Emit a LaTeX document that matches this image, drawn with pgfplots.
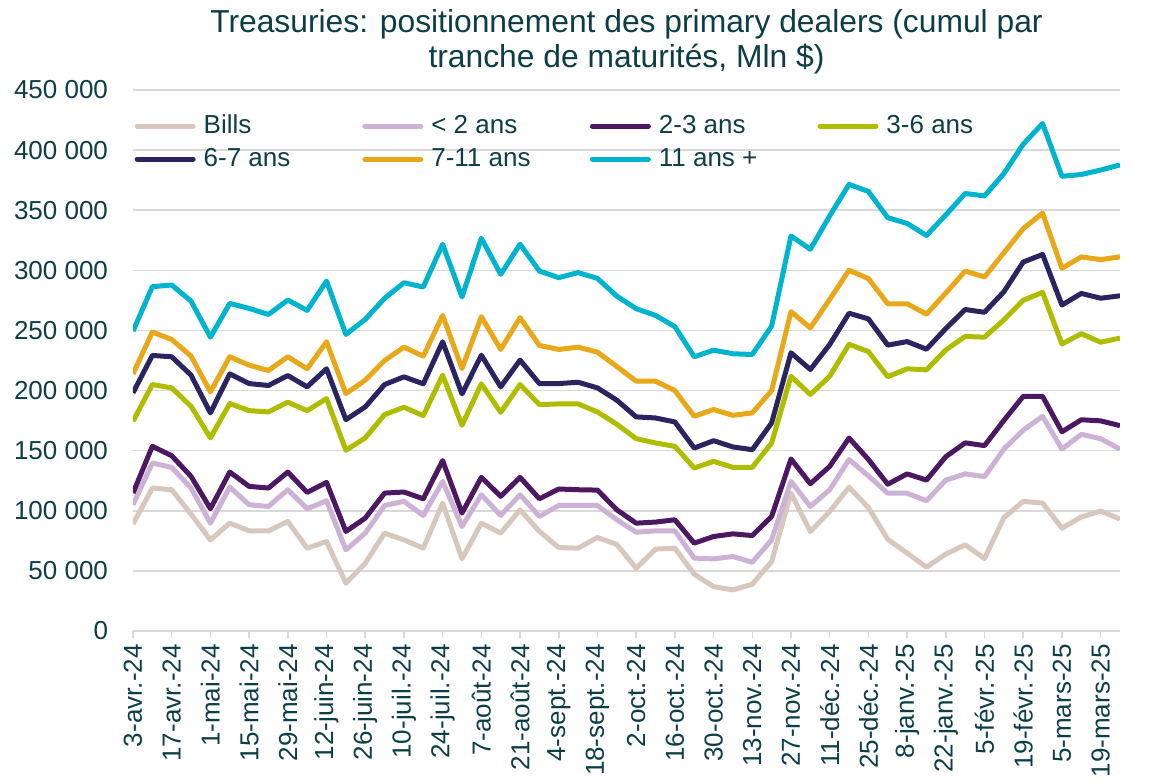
\documentclass[border=0pt]{standalone}
\usepackage{pgfplots}
\pgfplotsset{compat=1.18}
\usepackage{pgfplotstable}
\usepackage{fontspec}
\setmainfont{Liberation Sans}
\definecolor{txt}{HTML}{0D3E45}
\definecolor{gridc}{HTML}{D9D9D9}
\definecolor{cBills}{HTML}{D8C7BC}
\definecolor{cLt2}{HTML}{CCB3D6}
\definecolor{c23}{HTML}{4D1862}
\definecolor{c36}{HTML}{AEBD00}
\definecolor{c67}{HTML}{2A2460}
\definecolor{c711}{HTML}{E8A81A}
\definecolor{c11}{HTML}{00B4CF}
\pgfplotstableread{
i bills lt2 y23 y36 y67 y711 y11
0 88.9 105.0 114.7 174.4 198.1 213.9 249.4
1 118.9 139.7 153.6 205.0 229.2 248.6 286.4
2 117.5 136.1 145.8 202.2 228.1 242.5 287.8
3 97.2 118.9 128.6 186.9 212.8 228.6 274.4
4 75.8 89.7 101.7 160.6 181.4 198.9 244.4
5 89.7 119.7 132.2 189.2 213.9 228.1 272.5
6 83.3 105.0 120.3 183.3 205.8 221.1 268.3
7 83.3 103.6 118.9 182.2 204.2 216.7 263.3
8 91.1 117.5 132.2 190.3 212.5 228.1 275.3
9 68.9 101.7 115.3 183.3 203.1 218.1 266.7
10 74.4 108.3 123.6 193.3 218.1 240.6 291.1
11 39.7 67.5 82.8 150.3 175.8 197.5 246.7
12 56.4 81.4 93.9 160.6 186.4 208.6 259.2
13 81.4 104.4 114.7 180.0 205.0 225.0 276.7
14 75.8 107.8 115.6 186.1 211.4 236.1 289.7
15 68.9 96.1 110.0 179.2 205.6 228.6 286.1
16 106.4 124.4 141.7 212.8 240.6 262.5 321.7
17 60.0 86.9 98.1 171.1 197.2 218.3 277.8
18 89.7 113.3 127.8 205.6 229.4 261.4 326.7
19 81.4 96.1 112.0 181.9 203.1 234.2 296.7
20 100.8 113.3 127.8 205.0 225.3 260.6 321.7
21 82.8 95.3 110.0 188.3 205.8 237.5 299.4
22 69.4 104.4 118.1 188.9 205.8 234.2 293.9
23 68.9 104.4 117.5 188.9 206.9 236.1 298.1
24 77.8 104.4 117.2 182.2 202.2 231.9 293.3
25 72.0 92.5 100.8 172.0 192.0 220.0 278.5
26 52.2 82.2 89.7 160.0 178.1 207.8 268.1
27 68.1 83.3 90.6 156.4 177.2 207.8 262.5
28 68.9 83.3 92.5 153.6 173.9 200.0 253.1
29 47.2 60.6 73.1 135.6 152.2 178.6 228.1
30 36.9 60.0 78.6 141.1 158.3 184.2 233.6
31 34.2 61.9 80.8 136.1 153.1 179.4 230.6
32 38.9 57.2 79.4 136.1 150.8 181.4 230.0
33 57.8 75.8 95.3 156.4 173.1 200.0 253.6
34 114.7 124.4 143.1 211.9 231.4 265.6 328.6
35 82.8 103.6 122.5 196.7 217.5 252.2 317.5
36 99.4 117.5 136.9 211.9 238.3 275.8 345.3
37 119.6 142.6 160.5 238.5 264.3 300.1 371.5
38 102.6 129.0 142.7 232.4 259.6 293.1 365.6
39 76.3 114.6 122.1 211.5 237.8 272.2 343.8
40 64.8 114.6 130.7 218.1 240.7 272.2 339.0
41 53.1 108.3 125.5 217.2 234.4 263.6 329.0
42 64.0 125.5 145.0 233.8 251.6 281.1 346.1
43 71.7 130.7 156.5 245.0 267.4 299.4 363.9
44 60.3 128.4 154.2 244.4 265.1 294.5 361.9
45 94.2 151.3 175.1 258.8 282.2 314.6 380.5
46 107.8 167.1 195.2 275.1 306.9 334.7 404.9
47 106.4 178.5 195.2 281.7 313.2 347.6 422.1
48 85.6 151.3 165.7 238.7 271.1 301.7 378.2
49 94.8 163.6 175.7 247.3 280.8 311.2 379.7
50 99.8 159.9 174.8 240.2 276.8 308.9 383.4
51 93.2 151.3 170.8 243.6 278.8 311.2 387.7
}\data
\newcommand{\legent}[1]{\makebox[79.3pt][l]{#1}}
\begin{document}
\begin{tikzpicture}
\path[use as bounding box] (0,0) rectangle (576.5pt,391pt);
\begin{axis}[
  at={(66.5pt,75.5pt)}, anchor=south west,
  scale only axis, width=493.5pt, height=270.5pt,
  xmin=0, xmax=51, ymin=0, ymax=450,
  axis line style={draw=none},
  ymajorgrids, grid style={gridc, line width=0.75pt},
  xtick={0,2,...,50},
  xticklabels={3-avr.-24,17-avr.-24,1-mai-24,15-mai-24,29-mai-24,12-juin-24,26-juin-24,10-juil.-24,24-juil.-24,7-août-24,21-août-24,4-sept.-24,18-sept.-24,2-oct.-24,16-oct.-24,30-oct.-24,13-nov.-24,27-nov.-24,11-déc.-24,25-déc.-24,8-janv.-25,22-janv.-25,5-févr.-25,19-févr.-25,5-mars-25,19-mars-25},
  xtick pos=bottom, xtick align=outside, major tick length=3.5pt,
  xtick style={gridc, line width=0.75pt},
  xticklabel style={yshift=-3pt, rotate=90, anchor=east, inner sep=0pt, font=\fontsize{13}{15}\selectfont, text=txt},
  ytick={0,50,...,450},
  yticklabels={0,50 000,100 000,150 000,200 000,250 000,300 000,350 000,400 000,450 000},
  ytick style={draw=none},
  yticklabel style={anchor=east, xshift=-12.3pt, inner sep=0pt, font=\fontsize{13}{15}\selectfont, text=txt},
  legend columns=4,
  legend image code/.code={\draw[#1, line cap=round] (0pt,0pt) -- (28pt,0pt);},
  legend style={draw=none, fill=none, at={(0,1)}, anchor=north west, xshift=0.65pt, yshift=-12.35pt,
    inner sep=0pt, row sep=5.8pt, column sep=0pt, font=\fontsize{13}{15}\selectfont, text=txt,
    nodes={inner sep=0pt},
    /tikz/every odd column/.append style={column sep=4pt},
    /tikz/every even column/.append style={column sep=0pt}},
  every axis plot/.append style={line width=2.5pt, line join=round, no markers},
]
\addplot[cBills] table[x=i, y=bills] {\data}; \addlegendentry{\legent{Bills}}
\addplot[cLt2] table[x=i, y=lt2] {\data}; \addlegendentry{\legent{< 2 ans}}
\addplot[c23] table[x=i, y=y23] {\data}; \addlegendentry{\legent{2-3 ans}}
\addplot[c36] table[x=i, y=y36] {\data}; \addlegendentry{\legent{3-6 ans}}
\addplot[c67] table[x=i, y=y67] {\data}; \addlegendentry{\legent{6-7 ans}}
\addplot[c711] table[x=i, y=y711] {\data}; \addlegendentry{\legent{7-11 ans}}
\addplot[c11] table[x=i, y=y11] {\data}; \addlegendentry{\legent{11 ans +}}
\end{axis}
\node[anchor=base, text=txt, font=\fontsize{15.9}{18}\selectfont, inner sep=0pt] at (313.25pt,374.5pt) {Treasuries: positionnement des primary dealers (cumul par};
\node[anchor=base, text=txt, font=\fontsize{15.9}{18}\selectfont, inner sep=0pt] at (313.25pt,357pt) {tranche de maturités, Mln \$)};
\end{tikzpicture}
\end{document}
